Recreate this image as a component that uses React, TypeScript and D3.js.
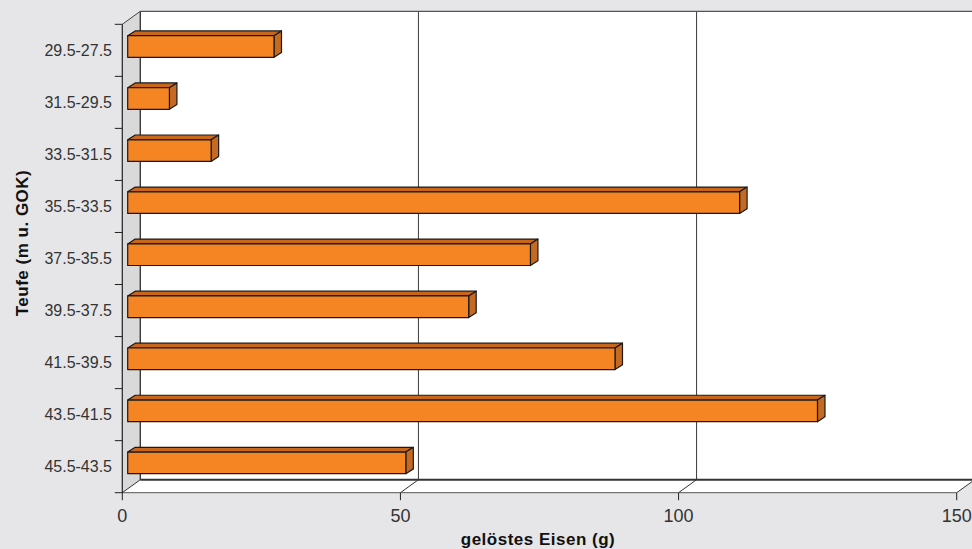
import * as d3 from "d3";

// depth intervals (m below ground) and dissolved iron in grams
const categories = [
	"29.5-27.5",
	"31.5-29.5",
	"33.5-31.5",
	"35.5-33.5",
	"37.5-35.5",
	"39.5-37.5",
	"41.5-39.5",
	"43.5-41.5",
	"45.5-43.5",
];
const values = [26.3, 7.5, 15, 110, 72.4, 61.3, 87.6, 124, 50];
const xTicks = [0, 50, 100, 150];

const WIDTH = 972;
const HEIGHT = 549;

// front plane of the 3d box
const FRONT_LEFT = 122.3;
const FRONT_RIGHT = 956.7;
const FRONT_TOP = 24.3;
const FRONT_BOTTOM = 492.7;
// depth offset of the back wall
const DEPTH_X = 18;
const DEPTH_Y = -13;
// bars sit a bit behind the front plane
const BAR_SHIFT_X = 5.4;
const BAR_SHIFT_Y = -3.8;
const BAR_DX = 7.5;
const BAR_DY = -4.8;

const ORANGE = "#f58423";
const ORANGE_TOP = "#c8661c";
const ORANGE_SIDE = "#c46a22";

export default function App() {
	const x = d3.scaleLinear().domain([0, 150]).range([FRONT_LEFT, FRONT_RIGHT]);
	const y = d3
		.scaleBand<string>()
		.domain(categories)
		.range([FRONT_TOP, FRONT_BOTTOM])
		.paddingInner(0.585)
		.paddingOuter(0.2925);
	const step = y.step();

	const backLeft = FRONT_LEFT + DEPTH_X;
	const backTop = FRONT_TOP + DEPTH_Y;
	const backBottom = FRONT_BOTTOM + DEPTH_Y;

	const bars = categories.map((cat, i) => {
		const x0 = x(0) + BAR_SHIFT_X;
		const x1 = x(values[i]) + BAR_SHIFT_X;
		const y0 = (y(cat) ?? 0) + BAR_SHIFT_Y;
		const y1 = y0 + y.bandwidth();
		const top = `M${x0},${y0}L${x0 + BAR_DX},${y0 + BAR_DY}L${x1 + BAR_DX},${y0 + BAR_DY}L${x1},${y0}Z`;
		const side = `M${x1},${y0}L${x1 + BAR_DX},${y0 + BAR_DY}L${x1 + BAR_DX},${y1 + BAR_DY}L${x1},${y1}Z`;
		return (
			<g key={cat} stroke="#1a1a1a" strokeWidth={1.2} strokeLinejoin="round">
				<path d={top} fill={ORANGE_TOP} />
				<path d={side} fill={ORANGE_SIDE} />
				<rect x={x0} y={y0} width={x1 - x0} height={y1 - y0} fill={ORANGE} />
			</g>
		);
	});

	const catTicks = d3.range(categories.length + 1).map((i) => FRONT_TOP + i * step);

	return (
		<svg
			width={WIDTH}
			height={HEIGHT}
			style={{ position: "fixed", left: 0, top: 0, display: "block" }}
			fontFamily="'Liberation Sans', Arial, sans-serif"
		>
			<rect width={WIDTH} height={HEIGHT} fill="#e6e6e8" />

			{/* back wall */}
			<rect x={backLeft} y={backTop} width={WIDTH - backLeft} height={backBottom - backTop} fill="#ffffff" />
			{/* left wall */}
			<path
				d={`M${FRONT_LEFT},${FRONT_TOP}L${backLeft},${backTop}L${backLeft},${backBottom}L${FRONT_LEFT},${FRONT_BOTTOM}Z`}
				fill="#d9d9da"
			/>
			{/* floor */}
			<path
				d={`M${FRONT_LEFT},${FRONT_BOTTOM}L${backLeft},${backBottom}L${x(150) + DEPTH_X},${backBottom}L${x(150)},${FRONT_BOTTOM}Z`}
				fill="#ffffff"
			/>

			{/* gridlines on back wall */}
			{xTicks.map((t) => (
				<line
					key={`g${t}`}
					x1={x(t) + DEPTH_X}
					x2={x(t) + DEPTH_X}
					y1={backTop}
					y2={backBottom}
					stroke="#3a3a3a"
					strokeWidth={t === 0 ? 1.4 : 1}
				/>
			))}
			{/* floor diagonals */}
			{xTicks.map((t) => (
				<line
					key={`d${t}`}
					x1={x(t)}
					x2={x(t) + DEPTH_X}
					y1={FRONT_BOTTOM}
					y2={backBottom}
					stroke="#333"
					strokeWidth={1}
				/>
			))}
			<line x1={backLeft} x2={WIDTH} y1={backTop} y2={backTop} stroke="#555" strokeWidth={1.2} />
			<line x1={FRONT_LEFT} x2={backLeft} y1={FRONT_TOP} y2={backTop} stroke="#444" strokeWidth={1} />
			<line x1={backLeft} x2={WIDTH} y1={backBottom} y2={backBottom} stroke="#333" strokeWidth={2} />
			<line x1={FRONT_LEFT} x2={x(150)} y1={FRONT_BOTTOM} y2={FRONT_BOTTOM} stroke="#555" strokeWidth={1} />
			<line x1={FRONT_LEFT} x2={FRONT_LEFT} y1={FRONT_TOP} y2={FRONT_BOTTOM} stroke="#222" strokeWidth={1.2} />

			{bars}

			{/* y axis ticks and labels */}
			{catTicks.map((ty, i) => (
				<line key={`yt${i}`} x1={FRONT_LEFT - 7.5} x2={FRONT_LEFT} y1={ty} y2={ty} stroke="#222" strokeWidth={1} />
			))}
			{categories.map((cat, i) => (
				<text
					key={`yl${cat}`}
					x={112}
					y={FRONT_TOP + (i + 0.5) * step}
					dy="0.36em"
					textAnchor="end"
					fontSize={16}
					fill="#333"
				>
					{cat}
				</text>
			))}

			{/* x axis ticks and labels */}
			{xTicks.map((t) => (
				<g key={`xt${t}`}>
					<line x1={x(t)} x2={x(t)} y1={FRONT_BOTTOM} y2={FRONT_BOTTOM + 7.5} stroke="#222" strokeWidth={1} />
					<text x={x(t)} y={522} textAnchor="middle" fontSize={18} fill="#333">
						{t}
					</text>
				</g>
			))}

			<text
				x={538}
				y={545}
				textAnchor="middle"
				fontSize={17}
				fontWeight="bold"
				letterSpacing={0.5}
				fill="#111"
			>
				gelöstes Eisen (g)
			</text>
			<text
				transform={`translate(28, 243) rotate(-90)`}
				textAnchor="middle"
				fontSize={17}
				fontWeight="bold"
				letterSpacing={0.5}
				fill="#111"
			>
				Teufe (m u. GOK)
			</text>
		</svg>
	);
}
